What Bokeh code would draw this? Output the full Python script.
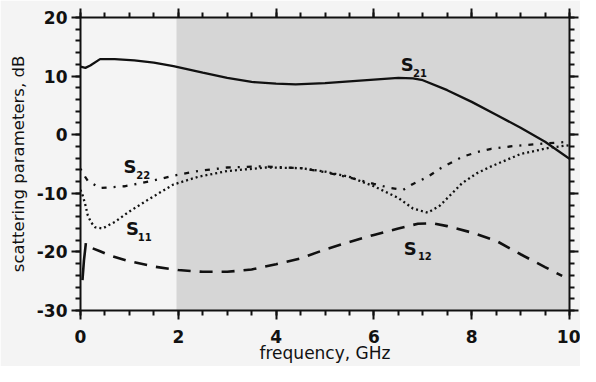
from bokeh.plotting import figure
from bokeh.models import LinearAxis, FixedTicker, BoxAnnotation, Range1d
from bokeh.core.properties import value
from bokeh.embed import file_html
from bokeh.resources import INLINE

# ---- data ----
s21_f = [0.0, 0.1, 0.2, 0.4, 0.7, 1.1, 1.5, 1.9, 2.5, 3.0, 3.5, 4.0, 4.4, 5.0, 5.5, 6.0, 6.5, 6.8, 7.0, 7.5, 8.0, 8.5, 9.0, 9.5, 10.0]
s21_db = [11.6, 11.4, 11.8, 12.9, 12.9, 12.7, 12.3, 11.7, 10.6, 9.7, 9.0, 8.7, 8.6, 8.8, 9.1, 9.4, 9.7, 9.6, 9.3, 7.6, 5.6, 3.4, 1.2, -1.2, -4.1]

s22_f = [0.0, 0.05, 0.15, 0.4, 0.9, 1.4, 1.9, 2.4, 3.0, 3.7, 4.5, 5.0, 5.5, 6.0, 6.35, 6.6, 6.8, 7.1, 7.35, 7.8, 8.1, 8.4, 8.9, 9.5, 10.0]
s22_db = [-5.8, -6.6, -7.9, -9.1, -8.8, -8.0, -7.0, -6.2, -5.6, -5.4, -5.7, -6.4, -7.3, -8.4, -9.1, -9.4, -8.4, -7.2, -5.8, -3.8, -3.0, -2.4, -1.9, -1.5, -1.2]

s11_f = [0.0, 0.05, 0.1, 0.15, 0.22, 0.3, 0.45, 0.7, 1.0, 1.4, 1.9, 2.4, 3.0, 3.8, 4.5, 5.0, 5.5, 6.0, 6.5, 6.8, 7.1, 7.35, 7.6, 7.8, 8.1, 8.4, 9.0, 9.6, 10.0]
s11_db = [-9.4, -10.5, -12.0, -13.8, -15.0, -15.8, -16.0, -14.9, -13.1, -11.0, -8.5, -7.2, -6.2, -5.6, -5.7, -6.3, -7.2, -8.8, -10.8, -12.6, -13.3, -12.1, -10.0, -8.3, -6.6, -5.4, -3.3, -2.2, -1.8]

s12_f = [0.04, 0.07, 0.11, 0.25, 0.4, 0.6, 1.0, 1.5, 2.0, 2.5, 3.0, 3.5, 4.0, 4.5, 5.0, 5.5, 6.0, 6.5, 6.9, 7.2, 7.5, 8.0, 8.5, 9.0, 9.5, 9.85]
s12_db = [-24.8, -21.5, -18.5, -19.4, -19.9, -20.6, -21.6, -22.5, -23.1, -23.4, -23.4, -23.0, -22.1, -21.1, -19.6, -18.3, -17.1, -16.0, -15.2, -15.1, -15.6, -16.7, -18.1, -20.4, -22.6, -24.1]

x_ticks = [0, 2, 4, 6, 8, 10]
y_ticks = [-30, -20, -10, 0, 10, 20]
y_tick_labels = ["-30", "-20", "-10", "0", "10", "20"]
x_minor = [0.5 * i for i in range(21)]
y_minor = [-30 + 2 * i for i in range(26)]

labels_main = ["S", "S", "S", "S"]
labels_sub = ["21", "22", "11", "12"]

FONT = "DejaVu Sans"
LIGHT = "#f4f4f4"
GRAY = "#d6d6d6"
INK = "#111111"

p = figure(width=580, height=366, min_border_left=80, min_border_top=17,
           min_border_right=11, min_border_bottom=56,
           x_range=Range1d(0, 10), y_range=Range1d(-30, 20),
           output_backend="svg", toolbar_location=None,
           background_fill_color=LIGHT, border_fill_color=LIGHT)
p.grid.visible = False
p.outline_line_color = None

# scanned grey area
p.add_layout(BoxAnnotation(left=176, right=700, top=0, bottom=356,
                           left_units="canvas", right_units="canvas",
                           top_units="canvas", bottom_units="canvas",
                           fill_color=GRAY, fill_alpha=1.0, line_color=None,
                           level="underlay"))

def style(ax, ticks, minor, labels=True):
    ax.ticker = FixedTicker(ticks=ticks, minor_ticks=minor)
    ax.axis_line_width = 2
    ax.axis_line_color = INK
    ax.major_tick_line_width = 2
    ax.minor_tick_line_width = 2
    ax.major_tick_line_color = INK
    ax.minor_tick_line_color = INK
    ax.major_tick_out = 9
    ax.major_tick_in = 0
    ax.minor_tick_out = 5
    ax.minor_tick_in = 0
    ax.major_label_text_font = FONT
    ax.major_label_text_font_style = "bold"
    ax.major_label_text_font_size = "17px"
    ax.major_label_text_color = INK
    ax.major_label_standoff = 4
    ax.axis_label_text_font = FONT
    ax.axis_label_text_font_style = "normal"
    ax.axis_label_text_color = INK
    if not labels:
        ax.major_label_overrides = {t: "" for t in ticks}
        ax.major_label_standoff = 0

style(p.xaxis[0], x_ticks, x_minor)
style(p.yaxis[0], y_ticks, y_minor)
p.yaxis[0].major_label_overrides = dict(zip(y_ticks, y_tick_labels))
p.xaxis[0].major_label_standoff = 10
p.xaxis[0].axis_label = "frequency, GHz"
p.xaxis[0].axis_label_text_font_size = "17px"
p.xaxis[0].axis_label_standoff = -3
p.yaxis[0].axis_label = "scattering parameters, dB"
p.yaxis[0].axis_label_text_font_size = "16.5px"
p.yaxis[0].axis_label_standoff = 6

top_ax = LinearAxis()
style(top_ax, x_ticks, x_minor, labels=False)
p.add_layout(top_ax, "above")
right_ax = LinearAxis()
style(right_ax, y_ticks, y_minor, labels=False)
p.add_layout(right_ax, "right")

# curves
p.line(s21_f, s21_db, line_color=INK, line_width=2.3)
p.line(s22_f, s22_db, line_color=INK, line_width=2.3, line_dash="2 7 5 7")
p.line(s11_f, s11_db, line_color=INK, line_width=2.3, line_dash="2 3")
p.line(s12_f[:3], s12_db[:3], line_color=INK, line_width=2.6)
p.line(s12_f[3:], s12_db[3:], line_color=INK, line_width=2.6, line_dash="13 9")

# curve labels
main_x = [6.55, 0.88, 0.93, 6.61]
main_y = [12.0, -5.5, -16.0, -19.35]
sub_x = [6.80, 1.14, 1.17, 6.90]
sub_y = [10.6, -6.87, -17.4, -20.75]
p.text(main_x, main_y, text=labels_main, text_font=value(FONT), text_font_style="bold",
       text_font_size="18px", text_color=INK, text_baseline="alphabetic", text_align="left")
p.text(sub_x, sub_y, text=labels_sub, text_font=value(FONT), text_font_style="bold",
       text_font_size="10px", text_color=INK, text_baseline="alphabetic", text_align="left")

open("out.html", "w").write(file_html(p, INLINE))
